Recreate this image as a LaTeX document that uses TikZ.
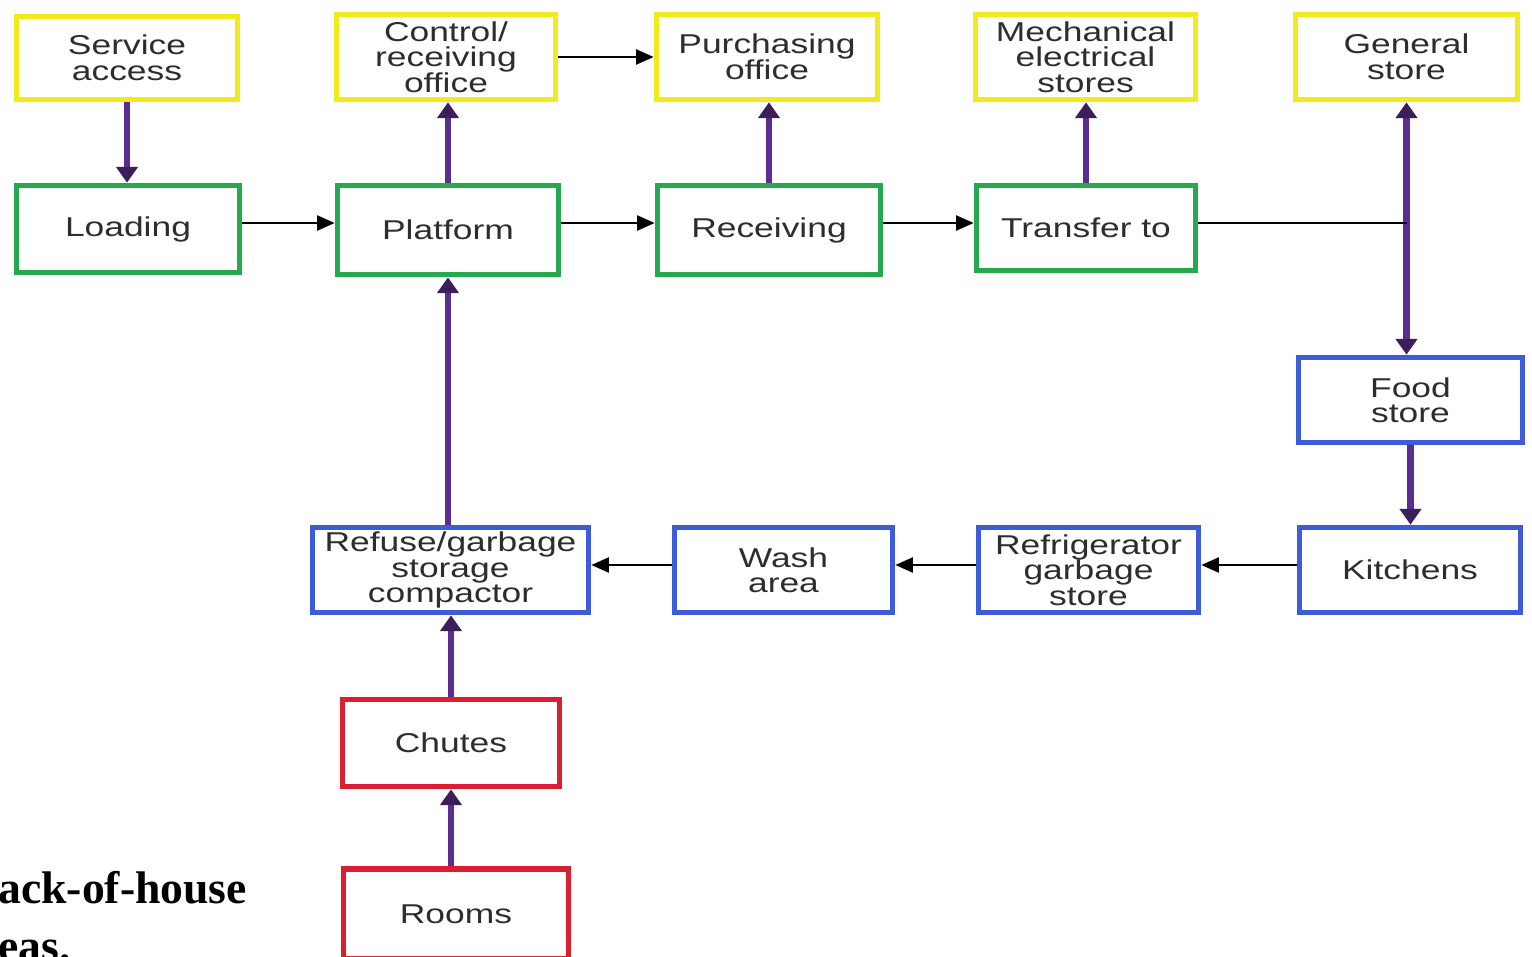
\documentclass[tikz,border=0pt]{standalone}
\usepackage{fontspec}
\usetikzlibrary{arrows.meta}
\newfontfamily\boxfont[FakeStretch=1.3]{Liberation Sans}
\newfontfamily\capfont{Liberation Serif}
\definecolor{cyel}{RGB}{243,233,28}
\definecolor{cgrn}{RGB}{38,168,78}
\definecolor{cblu}{RGB}{62,92,218}
\definecolor{cred}{RGB}{218,32,48}
\definecolor{cpur}{RGB}{92,44,146}
\definecolor{cpurh}{RGB}{60,30,90}
\definecolor{ctxt}{RGB}{45,45,45}
\tikzset{
  box/.style={draw, line width=3.2pt, fill=white, inner sep=0pt, align=center,
    text=ctxt, font=\boxfont\fontsize{15.5}{14.5}\selectfont},
  ybox/.style={box, draw=cyel},
  gbox/.style={box, draw=cgrn},
  bbox/.style={box, draw=cblu},
  rbox/.style={box, draw=cred},
  pur/.style={draw=cpur, line width=3.6pt, -{Triangle[length=9pt,width=12pt,color=cpurh]}},
  blk/.style={draw=black, line width=1.3pt, -{Triangle[length=10pt,width=8.5pt]}},
  plainline/.style={draw=black, line width=1.3pt},
  captext/.style={font=\capfont\bfseries\fontsize{26}{33}\selectfont, inner sep=0pt, anchor=base west}
}
\begin{document}
\begin{tikzpicture}[x=0.02cm,y=-0.02cm]
\useasboundingbox[fill=white] (0,0) rectangle (1532,957);
% top row (yellow)
\node[ybox, minimum width=4.42cm, minimum height=1.66cm] (svc) at (127,58) {Service\\access};
\node[ybox, minimum width=4.38cm, minimum height=1.70cm] (ctrl) at (446,57) {Control/\\receiving\\office};
\node[ybox, minimum width=4.42cm, minimum height=1.70cm] (purch) at (767,57) {Purchasing\\office};
\node[ybox, minimum width=4.40cm, minimum height=1.70cm] (mech) at (1085.5,57) {Mechanical\\electrical\\stores};
\node[ybox, minimum width=4.44cm, minimum height=1.70cm] (gen) at (1406.5,57) {General\\store};
% second row (green)
\node[gbox, minimum width=4.46cm, minimum height=1.74cm] (load) at (128,229) {Loading};
\node[gbox, minimum width=4.42cm, minimum height=1.78cm] (plat) at (448,230) {Platform};
\node[gbox, minimum width=4.46cm, minimum height=1.78cm] (recv) at (769,230) {Receiving};
\node[gbox, minimum width=4.38cm, minimum height=1.70cm] (trans) at (1086,228) {Transfer to};
% blue
\node[bbox, minimum width=4.48cm, minimum height=1.70cm] (food) at (1410.5,400) {Food\\store};
\node[bbox, minimum width=4.42cm, minimum height=1.70cm] (kit) at (1410,570) {Kitchens};
\node[bbox, minimum width=4.40cm, minimum height=1.70cm] (refr) at (1088.5,570) {Refrigerator\\garbage\\store};
\node[bbox, minimum width=4.36cm, minimum height=1.70cm] (wash) at (783.5,570) {Wash\\area};
\node[bbox, minimum width=5.52cm, minimum height=1.70cm] (refuse) at (450.5,570) {Refuse/garbage\\storage\\compactor};
% red
\node[rbox, minimum width=4.34cm, minimum height=1.74cm] (chutes) at (451,743) {Chutes};
\node[rbox, minimum width=4.50cm, minimum height=1.80cm] (rooms) at (456,914) {Rooms};
% caption
\node[captext] (cap1) at (-2,903) {ack-of-house};
\node[captext] (cap2) at (-2,961) {eas.};
% helper rows
\coordinate (row) at (0,223);
\coordinate (row2) at (0,565);
\coordinate (jn) at (1406.5,223);
% purple connectors
\draw[pur] (svc.south) -- (svc.south |- load.north);
\draw[pur] (plat.north) -- (plat.north |- ctrl.south);
\draw[pur] (recv.north) -- (recv.north |- purch.south);
\draw[pur] (trans.north) -- (trans.north |- mech.south);
\draw[pur, {Triangle[length=9pt,width=12pt,color=cpurh]}-{Triangle[length=9pt,width=12pt,color=cpurh]}] (gen.south) -- (gen.south |- food.north);
\draw[pur] (food.south) -- (food.south |- kit.north);
\draw[pur] (plat.south |- refuse.north) -- (plat.south);
\draw[pur] (chutes.north) -- (chutes.north |- refuse.south);
\draw[pur] (chutes.south |- rooms.north) -- (chutes.south);
% black connectors
\draw[blk] (ctrl.east) -- (ctrl.east -| purch.west);
\draw[blk] (load.east |- row) -- (plat.west |- row);
\draw[blk] (plat.east |- row) -- (recv.west |- row);
\draw[blk] (recv.east |- row) -- (trans.west |- row);
\draw[plainline] (trans.east |- row) -- (jn);
\draw[blk] (kit.west |- row2) -- (refr.east |- row2);
\draw[blk] (refr.west |- row2) -- (wash.east |- row2);
\draw[blk] (wash.west |- row2) -- (refuse.east |- row2);
\end{tikzpicture}
\end{document}
